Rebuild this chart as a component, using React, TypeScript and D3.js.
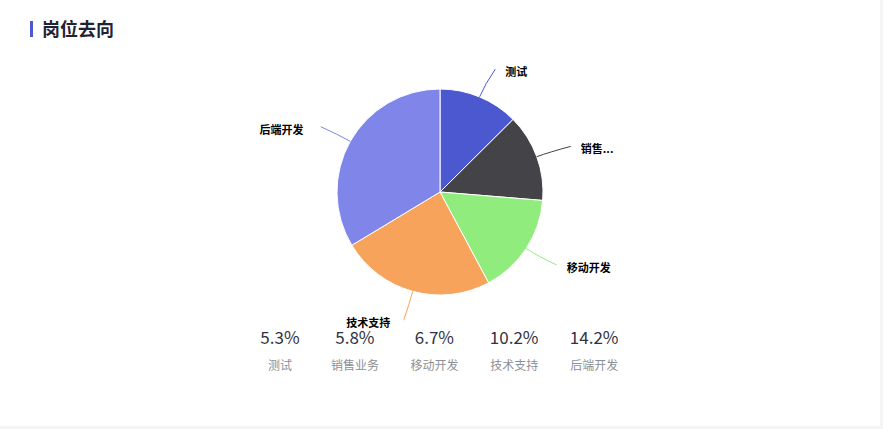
import React from 'react';
import * as d3 from 'd3';

const categories = ['测试', '销售业务', '移动开发', '技术支持', '后端开发'];
const pieLabels = ['测试', '销售...', '移动开发', '技术支持', '后端开发'];
const values = [5.3, 5.8, 6.7, 10.2, 14.2];
const colors = ['#4c58cf', '#434348', '#90ed7d', '#f7a35c', '#8085e9'];

const W = 883;
const H = 429;
const cx = 440;
const cy = 192;
const R = 103;

const App: React.FC = () => {
  const pie = d3.pie<number>().sort(null).value(d => d)(values);
  const arc = d3.arc<d3.PieArcDatum<number>>().innerRadius(0).outerRadius(R);

  // stats row laid out like a flex row: each item as wide as its widest text, fixed gap
  const itemW = categories.map((c, i) => Math.max(c.length * 12, `${values[i]}%`.length * 9.7));
  const gap = 31.5;
  const starts = [0, ...Array.from(d3.cumsum(itemW.map(w => w + gap)))];
  const x0 = 280 - itemW[0] / 2;
  const statX = (i: number) => x0 + starts[i] + itemW[i] / 2;

  const polar = (a: number, r: number): [number, number] => [Math.sin(a) * r, -Math.cos(a) * r];

  return (
    <svg width={W} height={H} style={{ position: 'absolute', left: 0, top: 0 }}
      fontFamily="'Noto Sans CJK SC', 'Noto Sans', sans-serif">
      <rect width={W} height={H} fill="#f5f5f6" />
      <rect width={880} height={426} fill="#ffffff" />
      <rect x={30} y={21} width={3} height={16} fill="#4c58cf" />
      <text x={42} y={35.5} fontSize={18} fontWeight={700} fill="#1f2433">岗位去向</text>

      <g transform={`translate(${cx},${cy})`}>
        {pie.map((d, i) => (
          <path key={i} d={arc(d) || ''} fill={colors[i]} stroke="#ffffff" strokeWidth={1} />
        ))}
        {pie.map((d, i) => {
          const mid = (d.startAngle + d.endAngle) / 2;
          const s = Math.abs(Math.sin(mid));
          const right = Math.sin(mid) >= 0;
          const [sx, sy] = polar(mid, R);
          const [qx, qy] = polar(mid, R + 14);
          const [ex0, ey] = polar(mid, R + 30);
          const ex = ex0 + (right ? 3 + 3 * s : -4 * s);
          const tx = ex + (right ? 10 : -(12 + 6 * s));
          return (
            <g key={`l${i}`}>
              <path d={`M${sx},${sy}Q${qx},${qy} ${ex},${ey}`} fill="none" stroke={colors[i]} strokeWidth={1} />
              <text x={tx} y={ey + 3} dy="0.35em" fontSize={11} fontWeight={700} fill="#000000"
                textAnchor={right ? 'start' : 'end'}
                stroke="#ffffff" strokeWidth={2} paintOrder="stroke">{pieLabels[i]}</text>
            </g>
          );
        })}
      </g>

      {categories.map((c, i) => (
        <g key={`s${i}`} transform={`translate(${statX(i)},0)`}>
          <text y={338} dy="0.35em" textAnchor="middle" fontSize={17} fill="#2f3445">{values[i]}%</text>
          <text y={366} dy="0.35em" textAnchor="middle" fontSize={12} fill="#8c8f96">{c}</text>
        </g>
      ))}
    </svg>
  );
};

export default App;
